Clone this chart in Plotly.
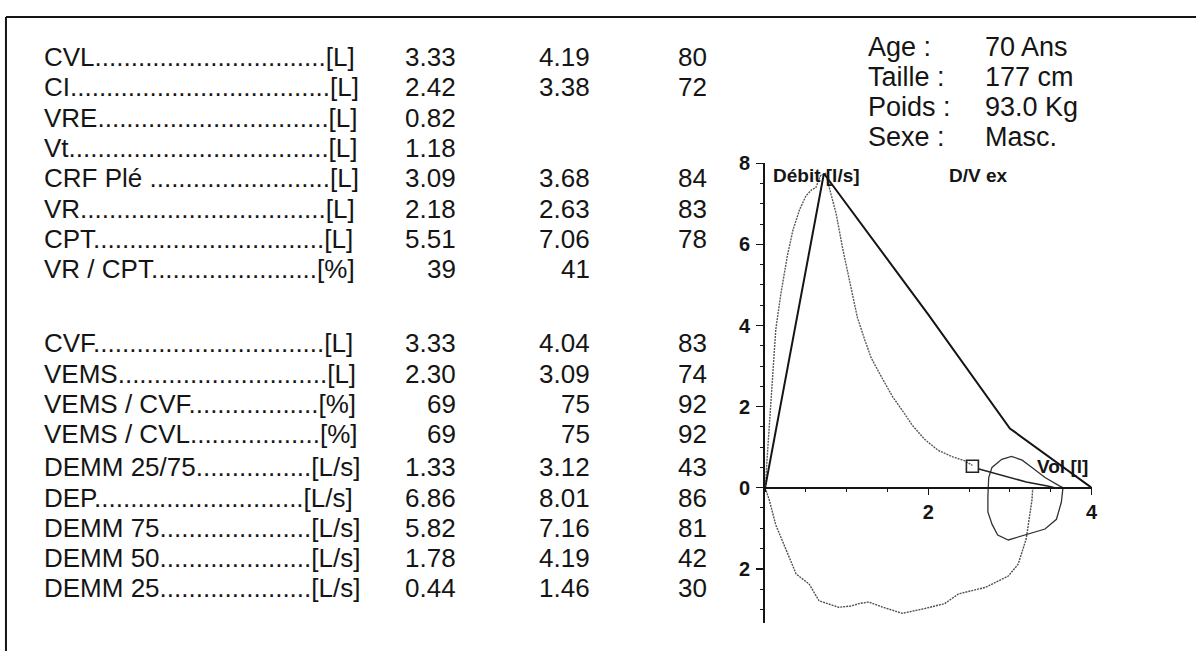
import plotly.graph_objects as go

W, H = 1202, 651
FONT = "Liberation Sans, Arial, Helvetica, sans-serif"
INK = "#151515"

# ---------------- data ----------------
labels_a = ["CVL", "CI", "VRE", "Vt", "CRF Plé ", "VR", "CPT", "VR / CPT"]
units_a = ["[L]", "[L]", "[L]", "[L]", "[L]", "[L]", "[L]", "[%]"]
measured_a = [3.33, 2.42, 0.82, 1.18, 3.09, 2.18, 5.51, 39]
predicted_a = [4.19, 3.38, None, None, 3.68, 2.63, 7.06, 41]
percent_a = [80, 72, None, None, 84, 83, 78, None]

labels_b = ["CVF", "VEMS", "VEMS / CVF", "VEMS / CVL", "DEMM 25/75",
            "DEP", "DEMM 75", "DEMM 50", "DEMM 25"]
units_b = ["[L]", "[L]", "[%]", "[%]", "[L/s]", "[L/s]", "[L/s]", "[L/s]", "[L/s]"]
measured_b = [3.33, 2.30, 69, 69, 1.33, 6.86, 5.82, 1.78, 0.44]
predicted_b = [4.04, 3.09, 75, 75, 3.12, 8.01, 7.16, 4.19, 1.46]
percent_b = [83, 74, 92, 92, 43, 86, 81, 42, 30]

patient_fields = ["Age :", "Taille :", "Poids :", "Sexe :"]
patient_values = ["70 Ans", "177 cm", "93.0 Kg", "Masc."]

# Flow-volume loop: volume [l], flow [l/s] (inspiration negative)
pred_vol = [0.0, 0.72, 2.0, 2.5, 3.0, 4.0]
pred_flow = [0.0, 7.75, 4.27, 2.86, 1.46, 0.0]

exp_vol = [0.0, 0.04, 0.08, 0.13, 0.19, 0.27, 0.34, 0.42, 0.50, 0.57, 0.62,
           0.68, 0.74, 0.80, 0.87, 0.95, 1.05, 1.13, 1.22, 1.30, 1.42, 1.56,
           1.70, 1.80, 1.95, 2.12, 2.30, 2.45, 2.54]
exp_flow = [0.0, 1.2, 2.6, 3.9, 4.75, 5.7, 6.35, 6.85, 7.2, 7.35, 7.4,
            7.7, 7.75, 7.3, 6.76, 5.9, 4.95, 4.2, 3.65, 3.2, 2.75, 2.25,
            1.85, 1.55, 1.2, 0.92, 0.76, 0.66, 0.55]

end_vol = [2.62, 2.9, 3.2, 3.46, 3.55]
end_flow = [0.46, 0.3, 0.14, 0.04, 0.0]

end_mark_vol = [2.54]
end_mark_flow = [0.53]

insp_vol = [0.0, 0.05, 0.13, 0.25, 0.38, 0.54, 0.66, 0.90, 1.05, 1.15, 1.27,
            1.43, 1.68, 1.96, 2.20, 2.37, 2.70, 2.98, 3.10, 3.20, 3.27, 3.28]
insp_flow = [0.0, -0.3, -0.92, -1.5, -2.13, -2.38, -2.79, -2.95, -2.92, -2.86,
             -2.82, -2.94, -3.1, -2.98, -2.86, -2.62, -2.46, -2.18, -1.89,
             -1.26, -0.3, 0.0]

tidal_vol = [2.73, 2.74, 2.78, 2.90, 3.02, 3.15, 3.27, 3.43, 3.60, 3.65,
             3.63, 3.57, 3.43, 3.18, 2.98, 2.85, 2.78, 2.73, 2.73]
tidal_flow = [-0.2, 0.25, 0.5, 0.7, 0.77, 0.68, 0.5, 0.25, 0.05, 0.0,
              -0.36, -0.78, -1.02, -1.17, -1.29, -1.17, -0.9, -0.6, -0.2]

# ---------------- helpers ----------------
ARIAL = {' ': 278, '.': 278, '/': 278, '[': 278, ']': 278, '%': 889, 'é': 556}
for d in "0123456789":
    ARIAL[d] = 556
ARIAL.update(dict(zip("ABCDEFGHIJKLMNOPQRSTUVWXYZ",
                      [667, 667, 722, 722, 667, 611, 778, 722, 278, 500, 667, 556, 833,
                       722, 778, 667, 778, 722, 667, 611, 722, 667, 944, 667, 667, 611])))
ARIAL.update(dict(zip("abcdefghijklmnopqrstuvwxyz",
                      [556, 556, 500, 556, 556, 278, 556, 556, 222, 222, 500, 222, 833,
                       556, 556, 556, 556, 333, 500, 278, 556, 500, 722, 500, 500, 500])))


def text_w(s, size):
    return sum(ARIAL.get(c, 556) for c in s) * size / 1000.0


def px(x):
    return x / W


def py(y):
    return 1 - y / H


TABLE_SIZE = 26
annotations = []


def add_text(x, y, text, anchor="left", size=TABLE_SIZE, bold=False):
    annotations.append(dict(
        x=px(x), y=py(y), xref="paper", yref="paper", text=text, showarrow=False,
        xanchor=anchor, yanchor="middle",
        font=dict(family=FONT, size=size, color=INK, weight="bold" if bold else "normal")))


def fmt(v, unit):
    if v is None:
        return None
    return f"{v:.0f}" if unit == "[%]" else f"{v:.2f}"


LABEL_X, UNIT_RIGHT = 42, 355
COL1, COL2, COL3 = 460, 595, 713


def add_row(y, name, unit, m, p, pc):
    dot_w = text_w(".", TABLE_SIZE)
    n = int(round((UNIT_RIGHT - LABEL_X - text_w(name + unit, TABLE_SIZE)) / dot_w))
    add_text(LABEL_X, y, name + "." * n + unit)
    for col, v in ((COL1, fmt(m, unit)), (COL2, fmt(p, unit)), (COL3, None if pc is None else f"{pc:d}")):
        if v is not None:
            add_text(col, y, v, anchor="right")


rows_a_y = [47 + 30.8 * i for i in range(len(labels_a))]
for i, y in enumerate(rows_a_y):
    add_row(y, labels_a[i], units_a[i], measured_a[i], predicted_a[i], percent_a[i])

rows_b_y = [338 + 30.8 * i + (3 if i >= 4 else 0) for i in range(len(labels_b))]
for i, y in enumerate(rows_b_y):
    add_row(y, labels_b[i], units_b[i], measured_b[i], predicted_b[i], percent_b[i])

for i, (f, v) in enumerate(zip(patient_fields, patient_values)):
    y = 37 + 30.5 * i
    add_text(870, y, f, size=27)
    add_text(988, y, v, size=27)

add_text(775, 167, "Débit [l/s]", size=19, bold=True)
add_text(952, 167, "D/V ex", size=19, bold=True)
add_text(1040, 463, "Vol [l]", size=19, bold=True)

# ---------------- figure ----------------
fig = go.Figure()
fig.add_trace(go.Scatter(x=insp_vol, y=insp_flow, mode="lines",
                         line=dict(color="#505050", width=1.4, dash="2px,1px"),
                         hoverinfo="skip"))
fig.add_trace(go.Scatter(x=exp_vol, y=exp_flow, mode="lines",
                         line=dict(color="#5a5a5a", width=1.4, dash="2px,1px"),
                         hoverinfo="skip"))
fig.add_trace(go.Scatter(x=tidal_vol, y=tidal_flow, mode="lines",
                         line=dict(color="#333333", width=1.3),
                         hoverinfo="skip"))
fig.add_trace(go.Scatter(x=pred_vol, y=pred_flow, mode="lines",
                         line=dict(color=INK, width=2),
                         hoverinfo="skip"))
fig.add_trace(go.Scatter(x=end_vol, y=end_flow, mode="lines",
                         line=dict(color="#222222", width=1.6),
                         hoverinfo="skip"))
fig.add_trace(go.Scatter(x=end_mark_vol, y=end_mark_flow, mode="markers",
                         marker=dict(symbol="square-open", size=12, color="#222222",
                                     line=dict(width=1.6, color="#222222")),
                         hoverinfo="skip"))

tickfont = dict(family=FONT, size=20, color=INK, weight="bold")
fig.update_layout(
    width=W, height=H, autosize=False,
    margin=dict(l=0, r=0, t=0, b=0, pad=0),
    paper_bgcolor="white", plot_bgcolor="white",
    showlegend=False,
    xaxis=dict(domain=[769 / W, 1097 / W], range=[0, 4], anchor="free",
               position=(H - 485) / H, showline=True, linewidth=2.5, linecolor=INK,
               showgrid=False, zeroline=False, ticks="outside", ticklen=6,
               tickwidth=1.5, tickcolor=INK, tickvals=[2, 4], ticktext=["2", "4"],
               tickfont=tickfont,
               minor=dict(dtick=0.5, tick0=0, ticks="outside", ticklen=3,
                          tickwidth=1, tickcolor=INK, showgrid=False),
               fixedrange=True),
    yaxis=dict(domain=[(H - 623) / H, (H - 155) / H], range=[-3.35, 8], anchor="x",
               showline=True, linewidth=2, linecolor=INK, showgrid=False,
               zeroline=False, ticks="outside", ticklen=7, tickwidth=1.5,
               tickcolor=INK, tickvals=[-2, 0, 2, 4, 6, 8],
               ticktext=["2", "0", "2", "4", "6", "8"], tickfont=tickfont,
               ticklabelstandoff=2,
               minor=dict(dtick=0.5, tick0=0, ticks="outside", ticklen=3,
                          tickwidth=1, tickcolor=INK, showgrid=False),
               fixedrange=True),
    annotations=annotations,
    shapes=[
        dict(type="line", xref="paper", yref="paper", x0=px(6), x1=1.0,
             y0=py(6), y1=py(6), line=dict(color=INK, width=2)),
        dict(type="line", xref="paper", yref="paper", x0=px(6), x1=px(6),
             y0=py(6), y1=0.0, line=dict(color=INK, width=2)),
    ],
)

fig.write_html(
    "out.html",
    config={"displayModeBar": False, "staticPlot": True},
    post_script="document.body.style.margin='0';document.body.style.padding='0';"
                "document.body.style.overflow='hidden';",
)
